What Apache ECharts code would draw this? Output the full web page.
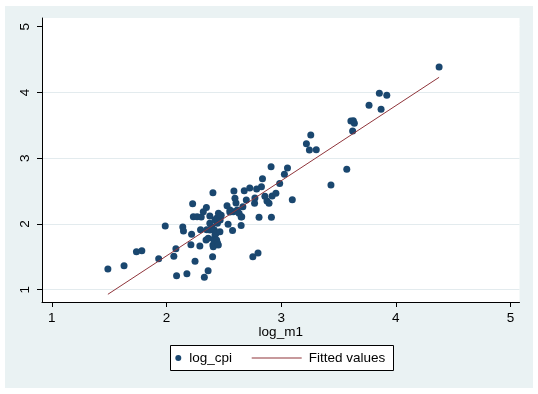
<!DOCTYPE html>
<html>
<head>
<meta charset="utf-8">
<script src="https://cdn.jsdelivr.net/npm/echarts@6/dist/echarts.min.js"></script>
<style>
html,body{margin:0;padding:0;background:#fff;}
#chart{width:538px;height:394px;}
</style>
</head>
<body>
<div id="chart"></div>
<script>
// log_m1 (x) values of the scatter points
const logM1 = [
 1.489,1.630,1.738,1.785,1.932,1.989,2.064,2.082,2.088,2.178,
 2.142,2.148,2.213,2.219,2.228,2.234,2.249,2.267,2.291,2.330,
 2.363,2.402,2.753,2.798,2.837,2.912,2.915,2.921,2.954,2.987,
 3.028,3.055,3.097,3.220,3.246,3.258,3.306,3.434,3.572,3.608,
 3.629,3.638,3.623,3.766,3.856,3.871,3.921,4.377,
 2.297,2.303,2.321,2.345,2.348,2.351,2.364,2.378,2.378,2.379,
 2.394,2.405,2.405,2.408,2.411,2.417,2.423,2.423,2.423,2.432,
 2.437,2.437,2.444,2.444,2.452,2.453,2.466,2.466,2.468,2.477,
 2.528,2.537,2.552,2.554,2.576,2.583,2.588,2.597,2.606,2.612,
 2.618,2.633,2.651,2.651,2.656,2.666,2.678,2.696,2.726,2.768,
 2.771,2.786,2.807,2.828,2.858,2.876,2.894
];
// log_cpi (y) values of the scatter points
const logCpi = [
 1.314,1.365,1.578,1.593,1.471,1.968,1.507,1.624,1.213,1.243,
 1.953,1.892,1.684,1.842,2.308,2.110,1.431,2.110,1.664,1.188,
 1.289,1.502,1.502,1.558,2.688,2.871,2.100,2.425,2.465,2.617,
 2.754,2.850,2.369,3.221,3.124,3.352,3.129,2.592,2.830,3.565,
 3.570,3.530,3.413,3.804,3.986,3.743,3.956,4.387,
 1.913,2.105,2.186,1.755,2.252,1.913,1.782,2.009,2.120,1.908,
 1.958,2.475,1.679,1.654,1.766,1.907,1.832,2.060,1.706,1.857,
 2.086,1.756,1.715,2.009,1.680,2.161,1.882,2.110,2.060,2.131,
 2.278,1.994,2.181,2.212,1.902,2.186,2.501,2.389,2.318,2.197,
 2.212,2.161,2.105,1.978,2.110,2.262,2.506,2.364,2.546,2.313,
 2.394,2.531,2.100,2.567,2.420,2.349,2.313
];
// fitted values (regression line endpoints)
const fitX = [1.489, 4.377];
const fitY = [0.930, 4.230];
// axis ticks
const xTicks = [1, 2, 3, 4, 5];
const yTicks = [1, 2, 3, 4, 5];

const scatterData = logM1.map((x, i) => [x, logCpi[i]]);
const fitData = fitX.map((x, i) => [x, fitY[i]]);

const FONT = "'Liberation Sans', Arial, sans-serif";
const GRIDC = '#e3ebee';
const chart = echarts.init(document.getElementById('chart'), null, {renderer: 'canvas'});
chart.setOption({
  backgroundColor: '#ffffff',
  animation: false,
  graphic: [
    {type: 'rect', z: -10, silent: true, shape: {x: 5, y: 6, width: 528, height: 382}, style: {fill: '#eaf2f3'}},
    {type: 'rect', z: 1, silent: true, shape: {x: 170.5, y: 345.5, width: 223, height: 25}, style: {fill: '#ffffff', stroke: '#000000', lineWidth: 1}}
  ],
  grid: {left: 42, top: 18, right: 18.5, bottom: 92, show: true, backgroundColor: '#ffffff', borderWidth: 0},
  xAxis: {
    type: 'value', min: 0.9146, max: 5.078,
    name: 'log_m1', nameLocation: 'middle', nameGap: 23, nameMoveOverlap: false,
    nameTextStyle: {color: '#000', fontFamily: FONT, fontSize: 13.5},
    axisLine: {show: true, onZero: false, lineStyle: {color: '#000', width: 1}},
    axisTick: {show: true, length: 5, customValues: xTicks, lineStyle: {color: '#000'}},
    axisLabel: {customValues: xTicks, margin: 9, color: '#000', fontFamily: FONT, fontSize: 13.5},
    splitLine: {show: false}
  },
  yAxis: {
    type: 'value', min: 0.813, max: 5.132,
    axisLine: {show: true, onZero: false, lineStyle: {color: '#000', width: 1}},
    axisTick: {show: true, length: 5, customValues: yTicks, lineStyle: {color: '#000'}},
    axisLabel: {customValues: yTicks, rotate: 90, margin: 10, color: '#000', fontFamily: FONT, fontSize: 13.5},
    splitLine: {show: true, lineStyle: {color: [GRIDC, GRIDC, GRIDC, GRIDC, '#ffffff'], width: 1}}
  },
  legend: [
    {data: [{name: 'log_cpi', icon: 'circle'}], left: 175.3, top: 351, padding: 0,
     itemWidth: 12, itemHeight: 6, selectedMode: false, z: 5,
     textStyle: {color: '#000', fontFamily: FONT, fontSize: 13.5}},
    {data: [{name: 'Fitted values', icon: 'rect', itemStyle: {color: '#90353b'}}], left: 251.7, top: 351, padding: 0,
     itemWidth: 50, itemHeight: 1, selectedMode: false, z: 5,
     textStyle: {color: '#000', fontFamily: FONT, fontSize: 13.5, padding: [0, 0, 0, 2]}}
  ],
  series: [
    {
      name: 'log_cpi', type: 'scatter', data: scatterData, z: 3,
      symbol: 'circle', symbolSize: 7,
      itemStyle: {color: '#1a476f', opacity: 1}
    },
    {
      name: 'Fitted values', type: 'line', data: fitData, z: 4,
      symbol: 'none', showSymbol: false,
      lineStyle: {color: '#90353b', width: 1},
      itemStyle: {color: '#90353b'}
    }
  ]
});
</script>
</body>
</html>
